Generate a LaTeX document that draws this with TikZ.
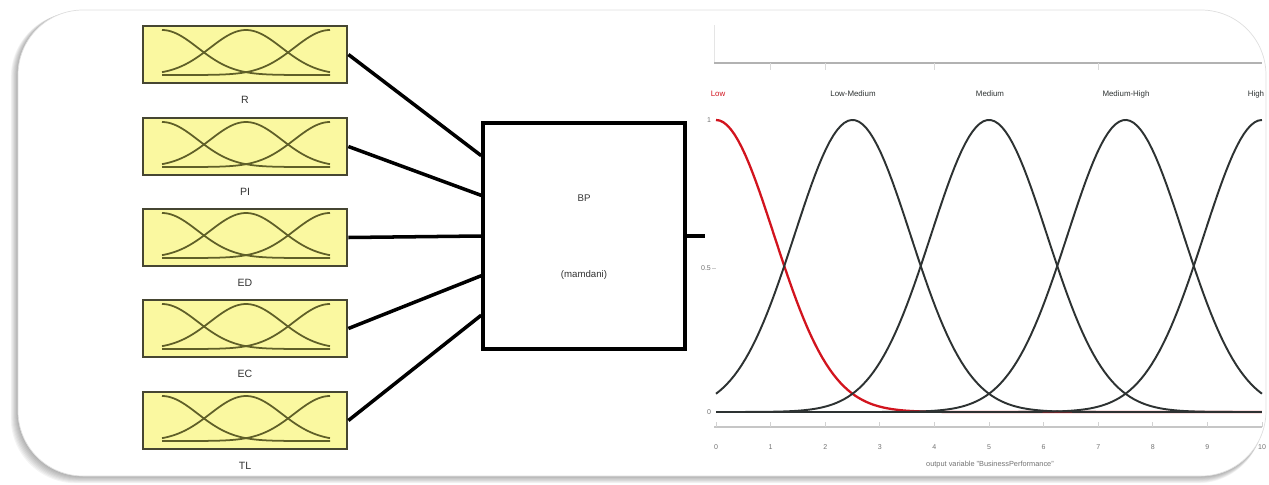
\documentclass[tikz,border=0pt]{standalone}
\usepackage{fontspec}
\setmainfont{Liberation Sans}
\usetikzlibrary{calc}
\definecolor{inyellow}{RGB}{250,248,160}
\definecolor{olivedark}{RGB}{70,70,50}
\definecolor{olivecurve}{RGB}{95,95,40}
\definecolor{mfdark}{RGB}{45,50,50}
\definecolor{mfred}{RGB}{210,20,30}
\tikzset{
  inbox/.style={draw=olivedark, line width=1.6pt, fill=inyellow, minimum width=4.08cm, minimum height=1.14cm, inner sep=0pt},
  fisbox/.style={draw=black, line width=2pt, fill=white, minimum width=4.04cm, minimum height=4.52cm, inner sep=0pt},
  wire/.style={line width=2pt, black},
  mfin/.style={draw=olivecurve, line width=1pt},
  inlbl/.style={font=\fontsize{6}{7}\selectfont, text=black!80, inner sep=0pt},
  fislbl/.style={font=\fontsize{5.5}{6.5}\selectfont, text=black!80, inner sep=0pt},
  mflbl/.style={font=\fontsize{4.5}{5.5}\selectfont, text=mfdark, inner sep=0pt},
  ticklbl/.style={font=\fontsize{4}{5}\selectfont, text=black!55, inner sep=0pt},
  mfcurve/.style={draw=mfdark, line width=1.1pt},
}
\begin{document}
\begin{tikzpicture}[x=0.02cm,y=-0.02cm]
\useasboundingbox (0,0) rectangle (1269,484);
% frame with shadow
\foreach \k in {1,...,8}{
  \fill[black, opacity=0.045, rounded corners=1.3cm] ({18-\k*0.9},{10+\k*0.3}) rectangle ({1266-\k*0.4},{476+\k*0.9});
}
\draw[gray!25, fill=white, rounded corners=1.3cm] (18,10) rectangle (1266,476);

% input membership boxes
\foreach \tp/\nm/\lab in {26/in1/R,118/in2/PI,209/in3/ED,300/in4/EC,392/in5/TL}{
  \node[inbox] (\nm) at (245,{\tp+28.5}) {};
  \draw[mfin] plot[domain=162:330,samples=60] (\x,{\tp+49-45*exp(-0.5*((\x-162)/35.7)^2)});
  \draw[mfin] plot[domain=162:330,samples=60] (\x,{\tp+49-45*exp(-0.5*((\x-246)/35.7)^2)});
  \draw[mfin] plot[domain=162:330,samples=60] (\x,{\tp+49-45*exp(-0.5*((\x-330)/35.7)^2)});
  \node[inlbl] (lab\nm) at (245,{\tp+74}) {\lab};
}

% FIS box
\node[fisbox] (bp) at (584,236) {};
\node[fislbl] (bpname) at (584,198) {BP};
\node[fislbl] (bptype) at (584,275) {(mamdani)};

% connectors
\draw[wire] (in1.east) -- ($(bp.north west)!0.15!(bp.south west)$);
\draw[wire] (in2.east) -- ($(bp.north west)!0.323!(bp.south west)$);
\draw[wire] (in3.east) -- ($(bp.north west)!0.5!(bp.south west)$);
\draw[wire] (in4.east) -- ($(bp.north west)!0.673!(bp.south west)$);
\draw[wire] (in5.east) -- ($(bp.north west)!0.845!(bp.south west)$);
\coordinate (out) at (705,236);
\draw[wire] (bp.east) -- (out);

% output plot
\draw[gray!20, line width=0.5pt] (714,25) -- (714,63);
\draw[gray!60, line width=0.8pt] (714,63) -- (1262,63);
\foreach \v in {1,2,4,7}{
  \draw[gray!30, line width=0.5pt] ({716+54.6*\v},63) -- ({716+54.6*\v},70);
}
\draw[gray!45, line width=0.6pt] (714,427) -- (1262,427);
\foreach \v in {0,...,10}{
  \draw[gray!35, line width=0.5pt] ({716+54.6*\v},427) -- ({716+54.6*\v},422);
  \node[ticklbl] (tk\v) at ({716+54.6*\v},447) {\v};
}
\node[ticklbl] (yt1) at (709,120) {1};
\node[ticklbl] (yt05) at (706,268) {0.5};
\draw[gray!40, line width=0.4pt] (712,268) -- (716,268);
\node[ticklbl] (yt0) at (709,412) {0};
\node[ticklbl, font=\fontsize{4.2}{5}\selectfont] (xlab) at (990,465) {output variable "BusinessPerformance"};

\draw[black, line width=1.4pt] (716,412) -- (1262,412);
\draw[mfred, line width=1.3pt] plot[domain=0:10,samples=150] ({716+54.6*\x},{412-292*exp(-0.5*((\x)/1.0617)^2)});
\foreach \c in {2.5,5,7.5,10}{
  \draw[mfcurve] plot[domain=0:10,samples=150] ({716+54.6*\x},{412-292*exp(-0.5*((\x-\c)/1.0617)^2)});
}
\node[mflbl, text=mfred] (mfL) at (718,94) {Low};
\node[mflbl] (mfLM) at (853,94) {Low-Medium};
\node[mflbl] (mfM) at (990,94) {Medium};
\node[mflbl] (mfMH) at (1126,94) {Medium-High};
\node[mflbl] (mfH) at (1256,94) {High};
\end{tikzpicture}
\end{document}
